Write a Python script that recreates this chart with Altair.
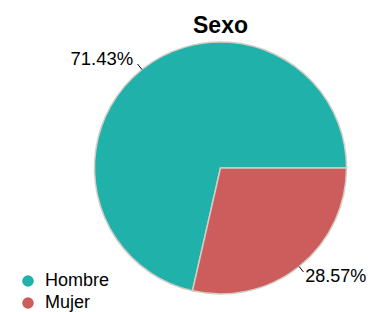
import altair as alt
import pandas as pd

# ---- data ----
categories = ["Hombre", "Mujer"]
percents = [71.43, 28.57]
colors = ["#20B2AA", "#CD5C5C"]
draw_order = [2, 1]  # Mujer is drawn first, starting at 3 o'clock
title_text = "Sexo"

df = pd.DataFrame({"sexo": categories, "pct": percents, "orden": draw_order})

CX, CY, R = 212.5, 160, 126
R_LINE, R_TEXT = 133, 140
FONT = "Liberation Sans"

base = (
    alt.Chart(df)
    .transform_joinaggregate(total="sum(pct)")
    .transform_window(cum="sum(pct)", sort=[alt.SortField("orden")], frame=[None, 0])
    .transform_calculate(
        t0="PI/2 + 2*PI*(datum.cum - datum.pct)/datum.total",
        t1="PI/2 + 2*PI*datum.cum/datum.total",
    )
    .transform_calculate(
        tm="(datum.t0 + datum.t1)/2",
        label="format(datum.pct, '.2f') + '%'",
    )
    .transform_calculate(
        lx0=f"{CX} + {R}*sin(datum.tm)",
        ly0=f"{CY} - {R}*cos(datum.tm)",
        lx1=f"{CX} + {R_LINE}*sin(datum.tm)",
        ly1=f"{CY} - {R_LINE}*cos(datum.tm)",
        tx=f"{CX} + {R_TEXT}*sin(datum.tm)",
        ty=f"{CY} - {R_TEXT}*cos(datum.tm)",
        side="sin(datum.tm) < 0 ? 'left' : 'right'",
    )
)

arcs = base.mark_arc(radius=R, stroke="#d2cec4", strokeWidth=1.5).encode(
    theta=alt.Theta("t0:Q", scale=None),
    theta2="t1:Q",
    x=alt.value(CX),
    y=alt.value(CY),
    color=alt.Color(
        "sexo:N",
        scale=alt.Scale(domain=categories, range=colors),
        legend=alt.Legend(
            title=None,
            orient="none",
            legendX=11,
            legendY=264,
            padding=0,
            symbolType="circle",
            symbolSize=135,
            symbolStrokeWidth=0,
            symbolOpacity=1,
            labelFontSize=18,
            labelFont=FONT,
            labelColor="#000000",
            labelOffset=8,
            rowPadding=4,
        ),
    ),
)

leaders = base.mark_rule(color="#000000", strokeWidth=1).encode(
    x=alt.X("lx0:Q", scale=None),
    y=alt.Y("ly0:Q", scale=None),
    x2="lx1:Q",
    y2="ly1:Q",
)

labels_left = base.transform_filter("datum.side == 'left'").mark_text(
    align="right", baseline="middle", fontSize=18.5, font=FONT, color="#000000"
).encode(x=alt.X("tx:Q", scale=None), y=alt.Y("ty:Q", scale=None), text="label:N")

labels_right = base.transform_filter("datum.side == 'right'").mark_text(
    align="left", baseline="middle", fontSize=18, dx=-2.5, font=FONT, color="#000000"
).encode(x=alt.X("tx:Q", scale=None), y=alt.Y("ty:Q", scale=None), text="label:N")

title = alt.Chart(pd.DataFrame({"t": [title_text]})).mark_text(
    align="center", baseline="alphabetic", fontSize=23, fontWeight="bold", font=FONT, color="#000000"
).encode(x=alt.value(CX), y=alt.value(25), text="t:N")

chart = (
    alt.layer(arcs, leaders, labels_left, labels_right, title)
    .properties(width=359, height=304, padding=0, autosize=alt.AutoSizeParams(type="none"))
    .configure_view(stroke=None)
)

chart.save("out.html", embed_options={"renderer": "svg", "actions": False})
